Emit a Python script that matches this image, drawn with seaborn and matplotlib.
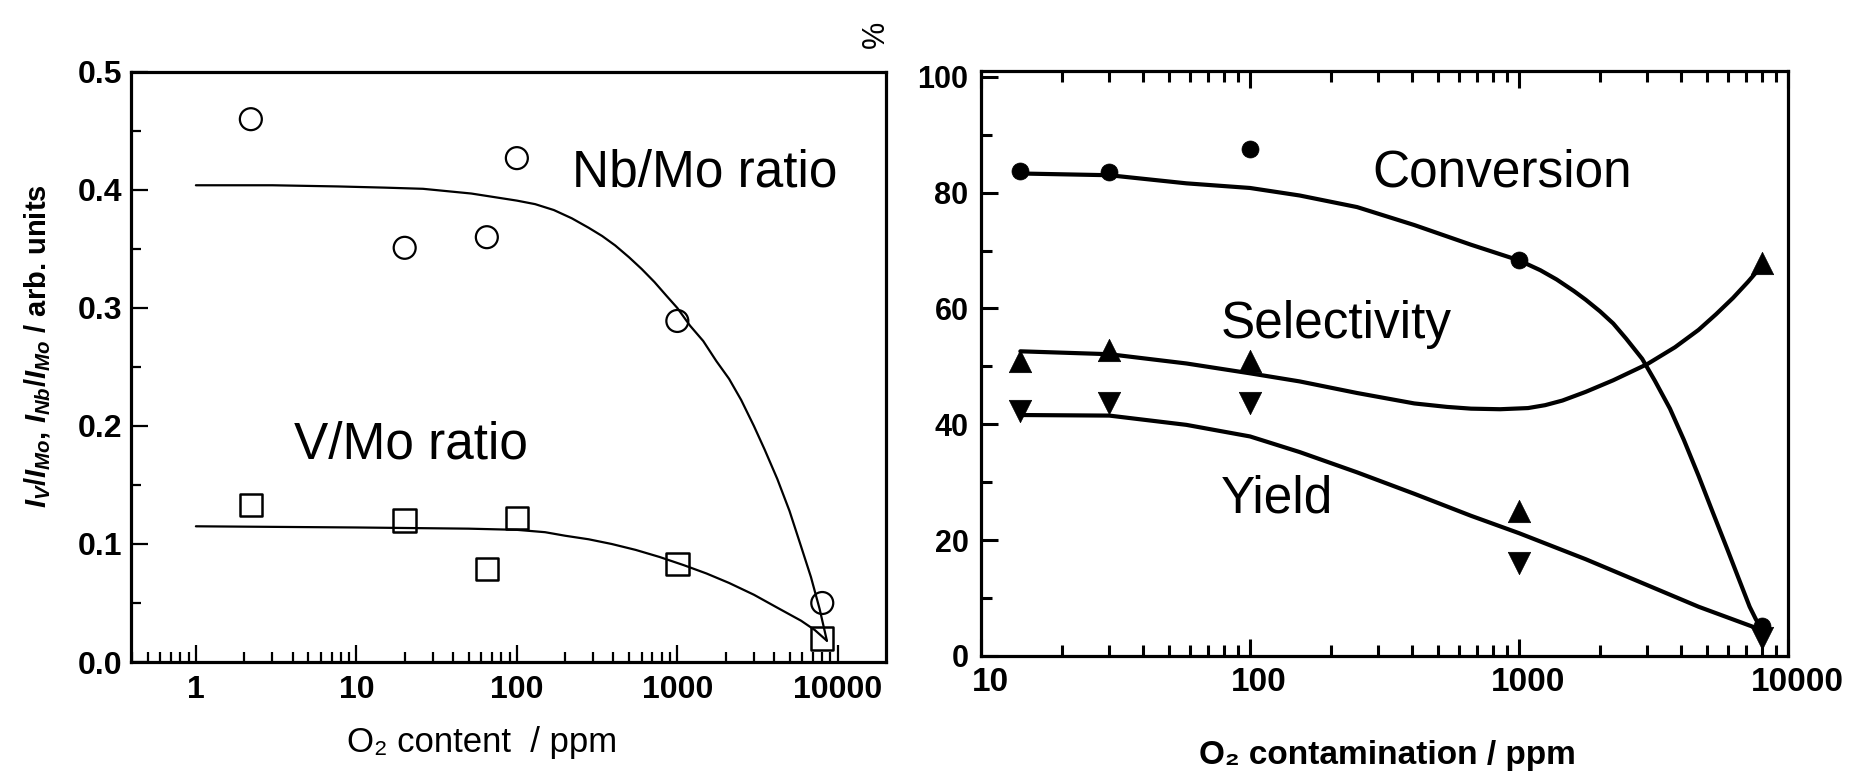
import matplotlib
matplotlib.use("Agg")
import matplotlib.pyplot as plt
import seaborn as sns
import numpy as np
from matplotlib.ticker import FixedLocator, FixedFormatter, MultipleLocator, LogLocator, NullFormatter
from matplotlib.transforms import ScaledTranslation

# ---------------- data: left panel (XPS ratios) ----------------
nb_x = [2.2, 20, 65, 100, 1000, 8000]
nb_y = [0.460, 0.351, 0.360, 0.427, 0.289, 0.050]
v_x = [2.2, 20, 65, 100, 1000, 8000]
v_y = [0.133, 0.120, 0.079, 0.122, 0.083, 0.020]

nb_fit_x = [1, 3, 7.7, 15, 26, 52, 100, 130, 170, 220, 280, 340, 410, 500, 600, 720, 860, 1000, 1200, 1450, 1750, 2100, 2500, 3000, 3500, 4200, 5000, 5900, 6800, 7700, 8550]
nb_fit_y = [0.404, 0.404, 0.403, 0.402, 0.401, 0.397, 0.391, 0.388, 0.383, 0.376, 0.368, 0.361, 0.353, 0.343, 0.333, 0.322, 0.310, 0.300, 0.285, 0.272, 0.255, 0.240, 0.222, 0.200, 0.180, 0.155, 0.128, 0.098, 0.072, 0.045, 0.018]
v_fit_x = [1, 10, 50, 100, 150, 200, 280, 390, 550, 775, 1100, 1520, 2100, 3000, 4200, 5900, 7200, 8550]
v_fit_y = [0.115, 0.114, 0.113, 0.112, 0.110, 0.107, 0.104, 0.100, 0.095, 0.089, 0.082, 0.075, 0.067, 0.057, 0.046, 0.035, 0.027, 0.018]

left_xticks = [1, 10, 100, 1000, 10000]
left_xticklabels = ["1", "10", "100", "1000", "10000"]
left_yticks = [0.0, 0.1, 0.2, 0.3, 0.4, 0.5]
left_yticklabels = ["0.0", "0.1", "0.2", "0.3", "0.4", "0.5"]

# ---------------- data: right panel (catalysis) ----------------
conv_x = [14, 30, 100, 1000, 8000]
conv_y = [83.8, 83.6, 87.6, 68.4, 5.2]
sel_x = [14, 30, 100, 1000, 8000]
sel_y = [51.0, 52.9, 51.0, 25.0, 67.9]
yld_x = [14, 30, 100, 1000, 8000]
yld_y = [42.3, 43.7, 43.7, 16.0, 3.1]

conv_fit_x = [14, 30, 58, 100, 153, 250, 408, 663, 1000, 1200, 1380, 1600, 1770, 2000, 2240, 2500, 2870, 3200, 3640, 4100, 4650, 5200, 5950, 6500, 7200, 7600, 8070]
conv_fit_y = [83.3, 83.0, 81.6, 80.8, 79.5, 77.5, 74.4, 71.0, 68.3, 66.6, 65.0, 63.0, 61.5, 59.5, 57.4, 54.8, 51.3, 47.5, 42.7, 37.3, 31.1, 25.3, 18.4, 13.8, 8.5, 6.3, 4.4]
sel_fit_x = [14, 30, 58, 100, 153, 250, 408, 540, 663, 850, 1080, 1250, 1450, 1770, 2240, 3000, 3800, 4650, 5400, 6240, 7100, 8070]
sel_fit_y = [52.6, 52.1, 50.5, 48.8, 47.4, 45.4, 43.6, 43.0, 42.7, 42.6, 42.8, 43.3, 44.1, 45.6, 47.6, 50.4, 53.3, 56.3, 59.0, 61.8, 64.6, 67.6]
yld_fit_x = [14, 30, 58, 100, 153, 250, 408, 663, 1000, 1770, 2870, 4650, 8070]
yld_fit_y = [41.6, 41.5, 39.9, 37.9, 35.2, 31.7, 28.0, 24.2, 21.2, 16.7, 12.6, 8.5, 4.4]

right_xticks = [10, 100, 1000, 10000]
right_xticklabels = ["10", "100", "1000", "10000"]
right_yticks = [0, 20, 40, 60, 80, 100]
right_yticklabels = ["0", "20", "40", "60", "80", "100"]

# ---------------- style ----------------
sns.set_theme(style="white")
plt.rcParams["font.family"] = ["Liberation Sans", "DejaVu Sans"]
plt.rcParams["mathtext.fontset"] = "custom"
plt.rcParams["mathtext.rm"] = "Liberation Sans:bold"
plt.rcParams["mathtext.it"] = "Liberation Sans:italic:bold"
plt.rcParams["mathtext.bf"] = "Liberation Sans:bold"

fig = plt.figure(figsize=(18.5, 7.74), dpi=100)
ax1 = fig.add_axes([0.0708, 0.1447, 0.408, 0.7623])
ax2 = fig.add_axes([0.5303, 0.1525, 0.4362, 0.7558])

for ax in (ax1, ax2):
    for s in ax.spines.values():
        s.set_linewidth(2.3)
        s.set_color("black")
        s.set_visible(True)

# ---------------- left panel ----------------
sns.lineplot(x=nb_fit_x, y=nb_fit_y, ax=ax1, color="black", lw=1.6, errorbar=None)
sns.lineplot(x=v_fit_x, y=v_fit_y, ax=ax1, color="black", lw=1.6, errorbar=None)
sns.scatterplot(x=nb_x, y=nb_y, ax=ax1, marker="o", s=250, color="none",
                edgecolor="black", linewidth=1.6, zorder=3)
sns.scatterplot(x=v_x, y=v_y, ax=ax1, marker="s", s=260, color="none",
                edgecolor="black", linewidth=1.8, zorder=3)

ax1.set_xscale("log")
ax1.set_xlim(0.394, 19900)
ax1.set_ylim(0, 0.5)
ax1.xaxis.set_major_locator(FixedLocator(left_xticks))
ax1.xaxis.set_major_formatter(FixedFormatter(left_xticklabels))
ax1.xaxis.set_minor_locator(LogLocator(base=10, subs=np.arange(2, 10), numticks=20))
ax1.xaxis.set_minor_formatter(NullFormatter())
ax1.yaxis.set_major_locator(FixedLocator(left_yticks))
ax1.yaxis.set_major_formatter(FixedFormatter(left_yticklabels))
ax1.yaxis.set_minor_locator(MultipleLocator(0.05))
ax1.tick_params(which="both", direction="in", top=False, right=False,
                bottom=True, left=True, color="black", width=1.6)
ax1.tick_params(which="major", length=12)
ax1.tick_params(which="minor", length=7)
ax1.tick_params(axis="x", which="major", pad=9, labelsize=23)
ax1.tick_params(axis="y", which="major", pad=6, labelsize=23)
for lab in ax1.get_xticklabels() + ax1.get_yticklabels():
    lab.set_fontweight("bold")
    lab.set_color("black")

ax1.set_xlabel("O\u2082 content  / ppm", fontsize=25, color="black")
ax1.xaxis.set_label_coords(0.465, -0.108)
ax1.set_ylabel(r"$I_{V}/I_{Mo}$, $I_{Nb}/I_{Mo}$ / arb. units", fontsize=21,
               fontweight="bold", color="black")
ax1.yaxis.set_label_coords(-0.103, 0.535)

ax1.text(220, 0.414, "Nb/Mo ratio", fontsize=37, ha="left", va="center", color="black")
ax1.text(4.1, 0.184, "V/Mo ratio", fontsize=37, ha="left", va="center", color="black")

# ---------------- right panel ----------------
sns.lineplot(x=conv_fit_x, y=conv_fit_y, ax=ax2, color="black", lw=3.0, errorbar=None)
sns.lineplot(x=sel_fit_x, y=sel_fit_y, ax=ax2, color="black", lw=3.0, errorbar=None)
sns.lineplot(x=yld_fit_x, y=yld_fit_y, ax=ax2, color="black", lw=3.0, errorbar=None)
sns.scatterplot(x=conv_x, y=conv_y, ax=ax2, marker="o", s=150, color="black",
                edgecolor="black", linewidth=0.5, zorder=3)
sns.scatterplot(x=sel_x, y=sel_y, ax=ax2, marker="^", s=260, color="black",
                edgecolor="black", linewidth=0.5, zorder=3)
sns.scatterplot(x=yld_x, y=yld_y, ax=ax2, marker="v", s=260, color="black",
                edgecolor="black", linewidth=0.5, zorder=3)

ax2.set_xscale("log")
ax2.set_xlim(10, 10000)
ax2.set_ylim(0, 101)
ax2.xaxis.set_major_locator(FixedLocator(right_xticks))
ax2.xaxis.set_major_formatter(FixedFormatter(right_xticklabels))
ax2.xaxis.set_minor_locator(LogLocator(base=10, subs=np.arange(2, 10), numticks=20))
ax2.xaxis.set_minor_formatter(NullFormatter())
ax2.yaxis.set_major_locator(FixedLocator(right_yticks))
ax2.yaxis.set_major_formatter(FixedFormatter(right_yticklabels))
ax2.yaxis.set_minor_locator(MultipleLocator(10))
ax2.tick_params(which="both", direction="in", top=True, right=False,
                bottom=True, left=True, color="black", width=2.2)
ax2.tick_params(which="major", length=12)
ax2.tick_params(which="minor", length=8)
ax2.tick_params(axis="x", which="major", pad=8, labelsize=24)
ax2.tick_params(axis="y", which="major", pad=9, labelsize=22)
for lab in ax2.get_xticklabels() + ax2.get_yticklabels():
    lab.set_fontweight("bold")
    lab.set_color("black")
shift = ScaledTranslation(0.09, 0, fig.dpi_scale_trans)
for lab in ax2.get_xticklabels():
    lab.set_transform(lab.get_transform() + shift)

ax2.set_xlabel("O\u2082 contamination / ppm", fontsize=24, fontweight="bold", color="black")
ax2.xaxis.set_label_coords(0.503, -0.143)
ax2.set_ylabel("%", fontsize=22, rotation=90, color="black")
ax2.yaxis.set_label_coords(-0.112, 1.062)

ax2.text(284, 83.4, "Conversion", fontsize=37, ha="left", va="center", color="black")
ax2.text(78, 57.2, "Selectivity", fontsize=37, ha="left", va="center", color="black")
ax2.text(78, 27.1, "Yield", fontsize=37, ha="left", va="center", color="black")

fig.savefig("out.png", dpi=100)
